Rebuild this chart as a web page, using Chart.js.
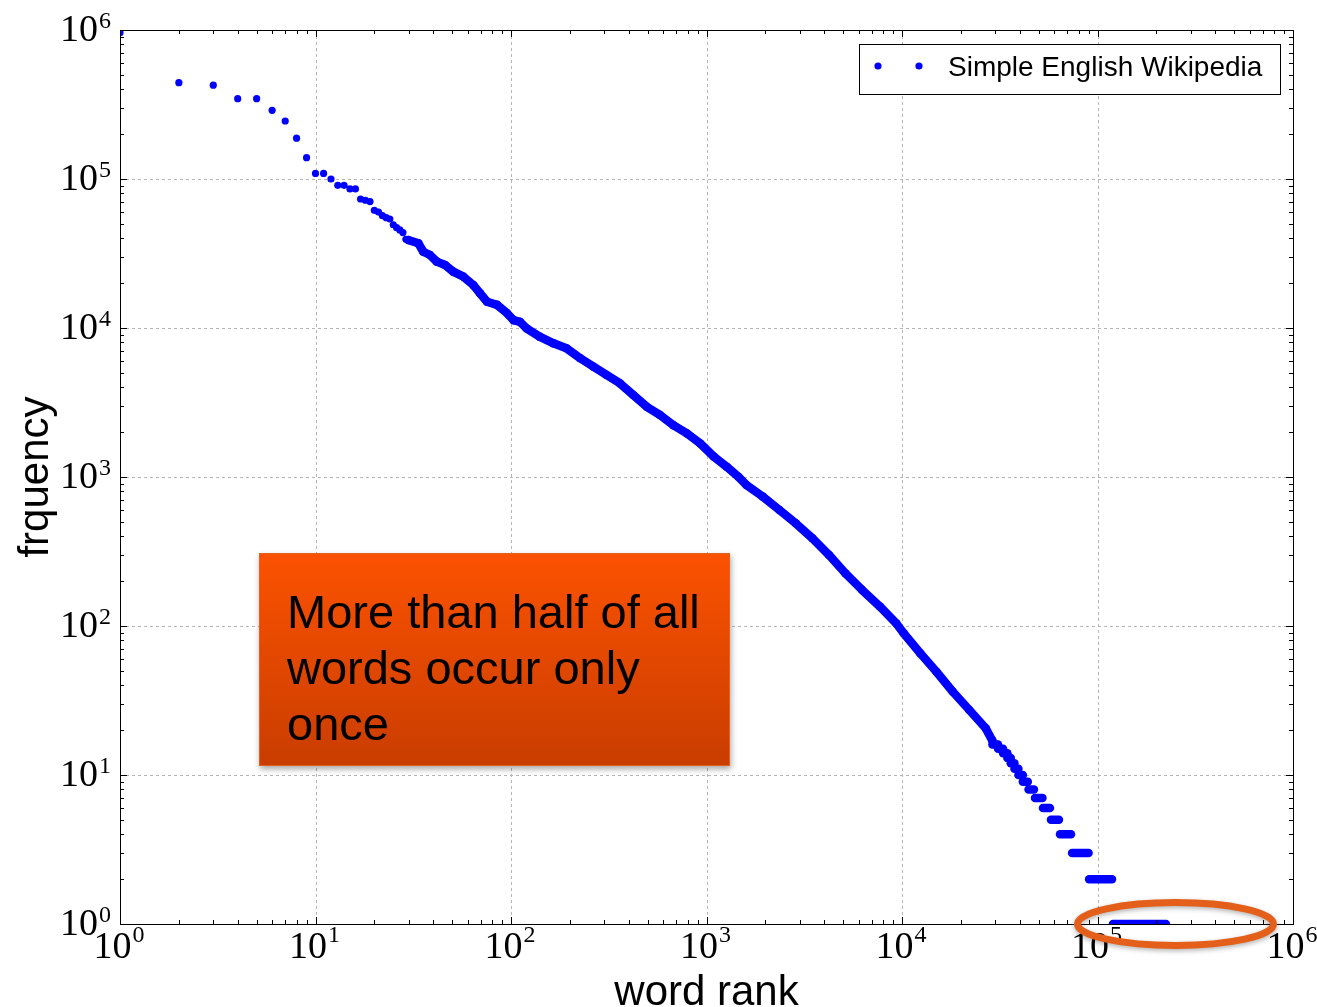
<!DOCTYPE html>
<html>
<head>
<meta charset="utf-8">
<title>word rank vs frequency</title>
<script src="https://cdn.jsdelivr.net/npm/chart.js@4.4.1/dist/chart.umd.min.js"></script>
<style>
  html, body { margin: 0; padding: 0; background: #fff; }
  #wrap { width: 1317px; height: 1007px; }
</style>
</head>
<body>
<div id="wrap"><canvas id="myChart" width="1317" height="1007"></canvas></div>
<script>
// values
const seriesLabel = 'Simple English Wikipedia';
const xTitle = 'word rank';
const yTitle = 'frquency';
const noteLines = ['More than half of all', 'words occur only', 'once'];

// the first few ranks show up as separate dots
const topRanks = [1, 2, 3, 4, 5, 6, 7, 8, 9, 10, 11, 12, 13, 14, 15, 16, 17, 18, 19, 20,
  21, 22, 23, 24, 25, 26, 27, 28, 29];
const topFreqs = [960000, 443000, 426000, 346000, 346000, 289000, 245000, 188000, 139000, 109000,
  109000, 100000, 90700, 90700, 85800, 85800, 73400, 72000, 70500, 61600,
  60000, 56700, 55000, 53900, 49300, 47100, 45500, 43700, 39400];

// dense part of the curve, where the dots merge into a band
const curveRanks = [29.8, 33.6, 35.6, 38.5, 41.7, 46, 50.6, 57.1, 64.2, 69.4, 75.4, 84.8, 95.3,
  103, 111, 120, 140, 165, 192, 226, 264, 308, 360, 422, 495, 577, 676, 794, 928,
  1090, 1270, 1460, 1600, 1940, 2360, 2860, 3480, 4230, 5130, 6240, 7710, 9360,
  10200, 12400, 15000, 18200, 22100, 26800, 29000];
const curveFreqs = [39000, 37000, 32500, 30900, 27900, 26500, 23900, 22100, 19400, 17100, 15000, 14300, 12600,
  11300, 11000, 9950, 8750, 7890, 7310, 6270, 5500, 4840, 4260, 3550, 2960, 2610, 2230, 1960, 1680,
  1370, 1170, 1000, 884, 738, 601, 489, 388, 300, 226, 175, 135, 104,
  89.3, 65.6, 49.3, 36.2, 27.3, 20.6, 17];

// low counts: runs of ranks sharing one frequency
const stepFreqs = [16, 15, 14, 13, 12, 11, 10, 9, 8, 7, 6, 5, 4, 3, 2, 1];
const stepFirstRank = [29000, 31000, 32900, 34600, 36000, 37600, 39400, 41500, 44400, 47900, 52600, 57800, 64300, 74100, 90600, 120000];
const stepLastRank = [31000, 32900, 34600, 36000, 37600, 39400, 41500, 44000, 47300, 52300, 57100, 63500, 73200, 90000, 118600, 224000];

const xExponents = [0, 1, 2, 3, 4, 5, 6];
const yExponents = [0, 1, 2, 3, 4, 5, 6];

const BLUE = '#0000ff';
const SERIF = '"Liberation Serif", "DejaVu Serif", serif';
const SANS = '"Liberation Sans", Arial, Helvetica, sans-serif';

function toPoints(xs, ys) {
  return xs.map((x, i) => ({ x: x, y: ys[i] }));
}

const datasets = [
  {
    label: seriesLabel,
    data: toPoints(topRanks, topFreqs),
    showLine: false,
    pointRadius: 3.6,
    pointBorderWidth: 0,
    pointBackgroundColor: BLUE,
    clip: 0
  },
  {
    label: seriesLabel,
    data: toPoints(curveRanks, curveFreqs),
    showLine: true,
    borderColor: BLUE,
    borderWidth: 8.5,
    borderJoinStyle: 'round',
    borderCapStyle: 'round',
    pointRadius: 4.3,
    pointBorderWidth: 0,
    pointBackgroundColor: BLUE,
    clip: 0
  }
];

stepFreqs.forEach((f, i) => {
  datasets.push({
    label: seriesLabel,
    data: [{ x: stepFirstRank[i], y: f }, { x: stepLastRank[i], y: f }],
    showLine: true,
    borderColor: BLUE,
    borderWidth: 8.5,
    borderCapStyle: 'round',
    pointRadius: 0,
    clip: 0
  });
});

function drawPow(ctx, x, baseY, supY, exp, align) {
  ctx.font = '38px ' + SERIF;
  const w10 = ctx.measureText('10').width;
  ctx.font = '24px ' + SERIF;
  const wSup = ctx.measureText(String(exp)).width;
  let start;
  if (align === 'right') start = x - w10 - wSup - 1;
  else start = x - (w10 + wSup + 1) / 2;
  ctx.textAlign = 'left';
  ctx.textBaseline = 'alphabetic';
  ctx.font = '38px ' + SERIF;
  ctx.fillText('10', start, baseY);
  ctx.font = '24px ' + SERIF;
  ctx.fillText(String(exp), start + w10 + 1, supY);
}

const gridPlugin = {
  id: 'mplGrid',
  beforeDatasetsDraw(chart) {
    const { ctx, chartArea: a, scales } = chart;
    ctx.save();
    ctx.strokeStyle = '#b5b5b5';
    ctx.lineWidth = 1;
    ctx.setLineDash([3, 3]);
    xExponents.forEach(e => {
      const px = Math.round(scales.x.getPixelForValue(Math.pow(10, e))) + 0.5;
      ctx.beginPath(); ctx.moveTo(px, a.top); ctx.lineTo(px, a.bottom); ctx.stroke();
    });
    yExponents.forEach(e => {
      const py = Math.round(scales.y.getPixelForValue(Math.pow(10, e))) + 0.5;
      ctx.beginPath(); ctx.moveTo(a.left, py); ctx.lineTo(a.right, py); ctx.stroke();
    });
    ctx.restore();
  },
  afterDatasetsDraw(chart) {
    const { ctx, chartArea: a, scales } = chart;
    ctx.save();
    // frame
    ctx.strokeStyle = '#000';
    ctx.lineWidth = 1;
    ctx.strokeRect(a.left + 0.5, a.top + 0.5, a.right - a.left, a.bottom - a.top);

    // inward tick marks on all four sides
    ctx.beginPath();
    for (let e = 0; e <= 6; e++) {
      for (let m = 1; m <= 9; m++) {
        if (e === 6 && m > 1) break;
        const v = m * Math.pow(10, e);
        const len = m === 1 ? 7 : 4;
        const px = Math.round(scales.x.getPixelForValue(v)) + 0.5;
        ctx.moveTo(px, a.bottom); ctx.lineTo(px, a.bottom - len);
        ctx.moveTo(px, a.top); ctx.lineTo(px, a.top + len);
        const py = Math.round(scales.y.getPixelForValue(v)) + 0.5;
        ctx.moveTo(a.left, py); ctx.lineTo(a.left + len, py);
        ctx.moveTo(a.right, py); ctx.lineTo(a.right - len, py);
      }
    }
    ctx.stroke();

    // tick labels
    ctx.fillStyle = '#000';
    yExponents.forEach(e => {
      const py = scales.y.getPixelForValue(Math.pow(10, e));
      drawPow(ctx, 111, py + 11, py - 2, e, 'right');
    });
    xExponents.forEach(e => {
      const px = scales.x.getPixelForValue(Math.pow(10, e));
      drawPow(ctx, px - 1, a.bottom + 34, a.bottom + 18, e, 'center');
    });

    // axis titles
    ctx.font = '42px ' + SANS;
    ctx.textAlign = 'center';
    ctx.textBaseline = 'alphabetic';
    ctx.fillText(xTitle, (a.left + a.right) / 2, 1005);
    ctx.save();
    ctx.translate(48, (a.top + a.bottom) / 2);
    ctx.rotate(-Math.PI / 2);
    ctx.fillText(yTitle, 0, 0);
    ctx.restore();

    // legend
    ctx.fillStyle = '#fff';
    ctx.fillRect(859, 44, 421, 50);
    ctx.strokeStyle = '#000';
    ctx.strokeRect(859.5, 44.5, 421, 50);
    ctx.fillStyle = BLUE;
    [878, 919].forEach(x => {
      ctx.beginPath(); ctx.arc(x, 66, 3.6, 0, Math.PI * 2); ctx.fill();
    });
    ctx.fillStyle = '#000';
    ctx.font = '28px ' + SANS;
    ctx.textAlign = 'left';
    ctx.fillText(seriesLabel, 948, 76);

    // orange note box
    ctx.save();
    ctx.shadowColor = 'rgba(0,0,0,0.35)';
    ctx.shadowBlur = 6;
    ctx.shadowOffsetX = 1;
    ctx.shadowOffsetY = 3;
    const g = ctx.createLinearGradient(0, 553, 0, 766);
    g.addColorStop(0, '#fb5200');
    g.addColorStop(1, '#c93d00');
    ctx.fillStyle = g;
    ctx.fillRect(259, 553, 471, 213);
    ctx.restore();
    ctx.strokeStyle = '#e2611e';
    ctx.lineWidth = 1;
    ctx.strokeRect(259.5, 553.5, 470, 212);
    ctx.fillStyle = '#000';
    ctx.font = '47px ' + SANS;
    ctx.textAlign = 'left';
    noteLines.forEach((t, i) => ctx.fillText(t, 287, 628 + i * 56));

    // ellipse around the frequency-1 run
    ctx.save();
    ctx.shadowColor = 'rgba(0,0,0,0.3)';
    ctx.shadowBlur = 5;
    ctx.shadowOffsetY = 2;
    ctx.strokeStyle = '#e4601a';
    ctx.lineWidth = 7;
    ctx.beginPath();
    ctx.ellipse(1175.5, 924, 98, 21.5, 0, 0, Math.PI * 2);
    ctx.stroke();
    ctx.restore();

    ctx.restore();
  }
};

const ctx = document.getElementById('myChart').getContext('2d');
new Chart(ctx, {
  type: 'scatter',
  data: { datasets: datasets },
  options: {
    responsive: false,
    devicePixelRatio: 1,
    animation: false,
    layout: { padding: { top: 30, right: 24, left: 0, bottom: 0 } },
    plugins: {
      legend: { display: false },
      tooltip: { enabled: false }
    },
    scales: {
      x: {
        type: 'logarithmic',
        min: 1,
        max: 1000000,
        ticks: { display: false },
        grid: { display: false },
        border: { display: false },
        afterFit: s => { s.height = 83; }
      },
      y: {
        type: 'logarithmic',
        min: 1,
        max: 1000000,
        ticks: { display: false },
        grid: { display: false },
        border: { display: false },
        afterFit: s => { s.width = 120; }
      }
    }
  },
  plugins: [gridPlugin]
});
</script>
</body>
</html>
